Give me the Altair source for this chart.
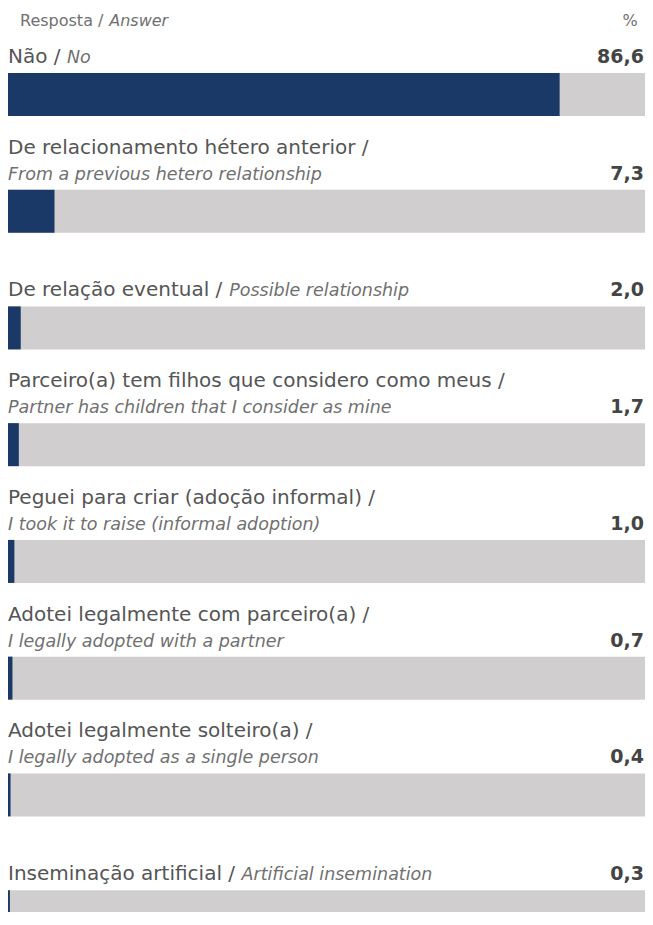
import altair as alt
import pandas as pd
import unicodedata

# ---- data ----
answers_pt = [
    "Não /",
    "De relacionamento hétero anterior /",
    "De relação eventual /",
    "Parceiro(a) tem filhos que considero como meus /",
    "Peguei para criar (adoção informal) /",
    "Adotei legalmente com parceiro(a) /",
    "Adotei legalmente solteiro(a) /",
    "Inseminação artificial /",
]
answers_en = [
    "No",
    "From a previous hetero relationship",
    "Possible relationship",
    "Partner has children that I consider as mine",
    "I took it to raise (informal adoption)",
    "I legally adopted with a partner",
    "I legally adopted as a single person",
    "Artificial insemination",
]
values = [86.6, 7.3, 2.0, 1.7, 1.0, 0.7, 0.4, 0.3]
single_line = [True, False, True, False, False, False, False, True]

header_pt = "Resposta /"
header_en = "Answer"
header_unit = "%"

# ---- style ----
FONT = "DejaVu Sans"
PT_SIZE = 20
EN_SIZE = 17.5
VAL_SIZE = 19
HDR_SIZE = 16
NAVY = "#1b3966"
TRACK = "#d0cecf"
TXT = "#555555"
TXT_LIGHT = "#707070"
PLOT_W = 637
PLOT_H = 904
ROW_STEP = 116.75
FIRST_CENTER = 86.4
BAR_H = 43

# approximate DejaVu Sans advance widths (em), used to place the italic part after the regular part
_W = {'a': .613, 'b': .635, 'c': .55, 'd': .635, 'e': .615, 'f': .352, 'g': .635, 'h': .634,
      'i': .278, 'j': .278, 'k': .579, 'l': .278, 'm': .974, 'n': .634, 'o': .612, 'p': .635,
      'q': .635, 'r': .411, 's': .521, 't': .392, 'u': .634, 'v': .592, 'w': .818, 'x': .592,
      'y': .592, 'z': .525, ' ': .318, '/': .337, '(': .39, ')': .39, 'I': .295, 'N': .748,
      'D': .77, 'R': .695}


def text_width(s, size):
    w = 0.0
    for ch in s:
        base = unicodedata.normalize("NFD", ch)[0]
        if base in _W:
            w += _W[base]
        elif base.isupper():
            w += .7
        else:
            w += .6
    return w * size


def px_to_data(px):
    return px / PLOT_W * 100


rows = []
for i, (pt, en, v, s) in enumerate(zip(answers_pt, answers_en, values, single_line)):
    rows.append({
        "row": i,
        "pt": pt,
        "en": en,
        "value": v,
        "label": f"{v:.1f}".replace(".", ","),
        "single": s,
        "full": 100,
        "zero": 0,
        "en_x": px_to_data(text_width(pt + " ", PT_SIZE)) if s else 0,
    })
df = pd.DataFrame(rows)

n = len(answers_pt)
y = alt.Y("row:Q",
          scale=alt.Scale(domain=[0, n - 1],
                          range=[FIRST_CENTER, FIRST_CENTER + ROW_STEP * (n - 1)],
                          zero=False, nice=False, padding=0),
          axis=None)
xscale = alt.Scale(domain=[0, 100], nice=False, padding=0)

base = alt.Chart(df)

track = base.mark_bar(size=BAR_H, color=TRACK, orient="horizontal").encode(
    x=alt.X("full:Q", scale=xscale, axis=None), x2=alt.X2("zero:Q"), y=y)
bars = base.mark_bar(size=BAR_H, color=NAVY, orient="horizontal").encode(
    x=alt.X("value:Q", scale=xscale, axis=None), x2=alt.X2("zero:Q"), y=y)

DY2 = -31.5
DY1 = -57.5

pt_single = base.transform_filter("datum.single").mark_text(
    align="left", baseline="alphabetic", dy=DY2, font=FONT, fontSize=PT_SIZE, color=TXT
).encode(x=alt.X("zero:Q", scale=xscale, axis=None), y=y, text="pt:N")

pt_double = base.transform_filter("!datum.single").mark_text(
    align="left", baseline="alphabetic", dy=DY1, font=FONT, fontSize=PT_SIZE, color=TXT
).encode(x=alt.X("zero:Q", scale=xscale, axis=None), y=y, text="pt:N")

en_text = base.mark_text(
    align="left", baseline="alphabetic", dy=DY2, font=FONT, fontSize=EN_SIZE,
    fontStyle="italic", color=TXT_LIGHT
).encode(x=alt.X("en_x:Q", scale=xscale, axis=None), y=y, text="en:N")

val_text = base.mark_text(
    align="right", baseline="alphabetic", dy=DY2, dx=-1, font=FONT, fontSize=VAL_SIZE,
    fontWeight="bold", color="#444444"
).encode(x=alt.X("full:Q", scale=xscale, axis=None), y=y, text="label:N")

hdr = pd.DataFrame({"pt": [header_pt], "en": [header_en], "unit": [header_unit]})
hdr_pt = alt.Chart(hdr).mark_text(
    align="left", baseline="alphabetic", font=FONT, fontSize=HDR_SIZE, color=TXT_LIGHT
).encode(x=alt.value(12), y=alt.value(18), text="pt:N")
hdr_en = alt.Chart(hdr).mark_text(
    align="left", baseline="alphabetic", font=FONT, fontSize=HDR_SIZE, fontStyle="italic",
    color=TXT_LIGHT
).encode(x=alt.value(12 + text_width(header_pt + " ", HDR_SIZE)), y=alt.value(18), text="en:N")
hdr_unit = alt.Chart(hdr).mark_text(
    align="center", baseline="alphabetic", font=FONT, fontSize=HDR_SIZE, color=TXT_LIGHT
).encode(x=alt.value(622), y=alt.value(18), text="unit:N")

chart = alt.layer(
    track, bars, pt_single, pt_double, en_text, val_text, hdr_pt, hdr_en, hdr_unit
).properties(
    width=PLOT_W, height=PLOT_H,
    autosize=alt.AutoSizeParams(type="none"),
    padding=0,
    background="white",
).configure_view(stroke=None)

chart.save("out.html", embed_options={"renderer": "svg", "actions": False})
